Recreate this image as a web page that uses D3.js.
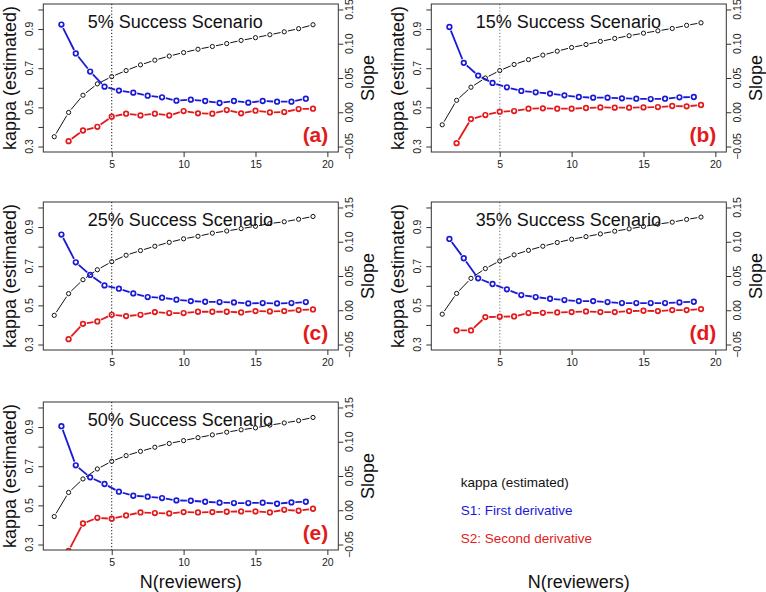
<!DOCTYPE html>
<html>
<head>
<meta charset="utf-8">
<script src="https://cdn.jsdelivr.net/npm/d3@7"></script>
<style>
  body { margin: 0; background: #fff; }
  svg { display: block; font-family: "Liberation Sans", Arial, sans-serif; }
</style>
</head>
<body>
<svg id="chart" width="766" height="592"></svg>
<script>
// x positions: kappa at every N, first derivative between, second derivative from 2
var nKappa = [1, 2, 3, 4, 5, 6, 7, 8, 9, 10, 11, 12, 13, 14, 15, 16, 17, 18, 19];
var nS1 = [1.5, 2.5, 3.5, 4.5, 5.5, 6.5, 7.5, 8.5, 9.5, 10.5, 11.5, 12.5, 13.5, 14.5, 15.5, 16.5, 17.5, 18.5];
var nS2 = [2, 3, 4, 5, 6, 7, 8, 9, 10, 11, 12, 13, 14, 15, 16, 17, 18, 19];

// (a) 5% success
var kappaA = [0.350, 0.474, 0.562, 0.620, 0.657, 0.688, 0.717, 0.741, 0.762, 0.780, 0.797, 0.811, 0.826, 0.842, 0.856, 0.871, 0.886, 0.902, 0.922];
var s1A = [0.128, 0.0858, 0.0594, 0.0374, 0.0316, 0.0286, 0.0242, 0.0218, 0.0169, 0.0184, 0.0164, 0.0135, 0.0164, 0.0140, 0.0164, 0.0154, 0.0154, 0.0198];
var s2A = [-0.0422, -0.0266, -0.0212, -0.0065, -0.0021, -0.0046, -0.0021, -0.0046, 0.0018, -0.0016, -0.0021, 0.0032, -0.0016, 0.0023, -0.0002, 0.0003, 0.0047, 0.0052];

// (b) 15% success
var kappaB = [0.411, 0.536, 0.603, 0.650, 0.688, 0.719, 0.744, 0.767, 0.787, 0.806, 0.821, 0.837, 0.852, 0.866, 0.879, 0.891, 0.903, 0.919, 0.932];
var s1B = [0.1244, 0.0721, 0.0535, 0.0428, 0.0364, 0.0311, 0.0291, 0.0272, 0.0247, 0.0223, 0.0213, 0.0213, 0.0203, 0.0198, 0.0193, 0.0198, 0.0218, 0.0223];
var s2B = [-0.0451, -0.0100, -0.0041, 0.0008, 0.0018, 0.0052, 0.0057, 0.0052, 0.0052, 0.0062, 0.0071, 0.0067, 0.0067, 0.0071, 0.0076, 0.0091, 0.0086, 0.0106];

// (c) 25% success
var kappaC = [0.449, 0.560, 0.631, 0.682, 0.723, 0.756, 0.780, 0.802, 0.822, 0.840, 0.853, 0.869, 0.880, 0.892, 0.904, 0.918, 0.927, 0.940, 0.954];
var s1C = [0.1105, 0.0700, 0.0515, 0.0363, 0.0315, 0.0246, 0.0193, 0.0183, 0.0154, 0.0134, 0.0124, 0.0120, 0.0115, 0.0100, 0.0105, 0.0100, 0.0105, 0.0120];
var s2C = [-0.0422, -0.0198, -0.0163, -0.0066, -0.0085, -0.0066, -0.0027, -0.0041, -0.0041, -0.0022, -0.0022, -0.0022, -0.0032, -0.0012, -0.0017, -0.0012, 0.0002, 0.0012];

// (d) 35% success
var kappaD = [0.455, 0.561, 0.638, 0.688, 0.727, 0.758, 0.781, 0.802, 0.821, 0.838, 0.851, 0.865, 0.879, 0.891, 0.903, 0.915, 0.925, 0.939, 0.951];
var s1D = [0.1041, 0.0759, 0.0466, 0.0383, 0.0305, 0.0222, 0.0193, 0.0168, 0.0149, 0.0134, 0.0134, 0.0120, 0.0105, 0.0105, 0.0105, 0.0105, 0.0115, 0.0124];
var s2D = [-0.0295, -0.0295, -0.0100, -0.0095, -0.0090, -0.0041, -0.0037, -0.0032, -0.0027, -0.0017, -0.0027, -0.0027, -0.0012, -0.0007, -0.0012, 0.0002, 0.0002, 0.0017];

// (e) 50% success
var kappaE = [0.443, 0.566, 0.635, 0.686, 0.725, 0.754, 0.776, 0.797, 0.816, 0.831, 0.846, 0.860, 0.874, 0.886, 0.896, 0.910, 0.921, 0.933, 0.949];
var s1E = [0.1227, 0.0656, 0.0480, 0.0383, 0.0271, 0.0212, 0.0198, 0.0178, 0.0144, 0.0139, 0.0124, 0.0110, 0.0105, 0.0105, 0.0110, 0.0095, 0.0115, 0.0124];
var s2E = [-0.0593, -0.0193, -0.0110, -0.0124, -0.0076, -0.0032, -0.0041, -0.0046, -0.0027, -0.0032, -0.0027, -0.0022, -0.0017, -0.0017, -0.0032, 0.0007, -0.0007, 0.0022];

var scenarios = ['5% Success Scenario', '15% Success Scenario', '25% Success Scenario', '35% Success Scenario', '50% Success Scenario'];
var panelTags = ['(a)', '(b)', '(c)', '(d)', '(e)'];
var kappaTicks = [0.3, 0.4, 0.5, 0.6, 0.7, 0.8, 0.9, 1.0];
var kappaLabels = [0.3, 0.5, 0.7, 0.9];
var slopeTicks = [-0.05, 0.00, 0.05, 0.10, 0.15];
var nTicks = [5, 10, 15, 20];
var legendItems = ['kappa (estimated)', 'S1: First derivative', 'S2: Second derivative'];

var BLUE = '#1a1ad6', RED = '#e31a1c';

var panels = [
  {kappa: kappaA, s1: s1A, s2: s2A, col: 0, row: 0, vline: '#111'},
  {kappa: kappaB, s1: s1B, s2: s2B, col: 1, row: 0, vline: '#999'},
  {kappa: kappaC, s1: s1C, s2: s2C, col: 0, row: 1, vline: '#111'},
  {kappa: kappaD, s1: s1D, s2: s2D, col: 1, row: 1, vline: '#999'},
  {kappa: kappaE, s1: s1E, s2: s2E, col: 0, row: 2, vline: '#111'}
];

var colLeft = [43.3, 431.3];
var rowTop = [4, 202, 402];
var boxW = 295, boxH = 148;

var svg = d3.select('#chart');

// Draw a series like R's type="b": circles with line pieces that stop short of them
function drawB(g, xs, ys, x, y, color, lw, r, sw) {
  var pts = xs.map(function (v, i) { return [x(v), y(ys[i])]; });
  var gap = r + 1.6;
  var segs = d3.pairs(pts).map(function (p) {
    var dx = p[1][0] - p[0][0], dy = p[1][1] - p[0][1];
    var len = Math.sqrt(dx * dx + dy * dy);
    if (len <= 2 * gap) return null;
    var ux = dx / len, uy = dy / len;
    return [p[0][0] + ux * gap, p[0][1] + uy * gap, p[1][0] - ux * gap, p[1][1] - uy * gap];
  }).filter(function (s) { return s; });

  g.append('g').selectAll('line')
    .data(segs).enter()
    .append('line')
    .attr('x1', function (s) { return s[0]; })
    .attr('y1', function (s) { return s[1]; })
    .attr('x2', function (s) { return s[2]; })
    .attr('y2', function (s) { return s[3]; })
    .attr('stroke', color)
    .attr('stroke-width', lw);

  g.append('g').selectAll('circle')
    .data(pts).enter()
    .append('circle')
    .attr('cx', function (p) { return p[0]; })
    .attr('cy', function (p) { return p[1]; })
    .attr('r', r)
    .attr('fill', 'none')
    .attr('stroke', color)
    .attr('stroke-width', sw);
}

panels.forEach(function (p, i) {
  var L = colLeft[p.col], T = rowTop[p.row];
  var R = L + boxW, B = T + boxH;

  var x = d3.scaleLinear().domain([0.24, 20.76]).range([L, R]);
  var yK = d3.scaleLinear().domain([0.272, 1.028]).range([B, T]);
  var yS = d3.scaleLinear().domain([-0.058, 0.158]).range([B, T]);

  var g = svg.append('g');

  // clip for the plot region
  svg.append('clipPath').attr('id', 'clip' + i)
    .append('rect').attr('x', L).attr('y', T).attr('width', boxW).attr('height', boxH);

  // axes
  var xAxis = d3.axisBottom(x).tickValues(nTicks).tickSize(5).tickPadding(4).tickFormat(d3.format('d'));
  var gx = g.append('g').attr('transform', 'translate(0,' + B + ')').call(xAxis);
  gx.select('.domain').remove();
  gx.selectAll('line').attr('stroke', '#333');
  gx.selectAll('text').attr('font-size', '10.5px').attr('fill', '#222')
    .attr('font-family', '"Liberation Sans", Arial, sans-serif');

  var gyL = g.append('g').attr('transform', 'translate(' + L + ',0)')
    .call(d3.axisLeft(yK).tickValues(kappaTicks).tickSize(5).tickFormat(''));
  gyL.select('.domain').remove();
  gyL.selectAll('line').attr('stroke', '#333');
  g.append('g').selectAll('text')
    .data(kappaLabels).enter()
    .append('text')
    .attr('transform', function (d) { return 'translate(' + (L - 10.3) + ',' + yK(d) + ') rotate(-90)'; })
    .attr('text-anchor', 'middle')
    .attr('font-size', '10.5px')
    .attr('fill', '#222')
    .text(function (d) { return d3.format('.1f')(d); });

  var gyR = g.append('g').attr('transform', 'translate(' + R + ',0)')
    .call(d3.axisRight(yS).tickValues(slopeTicks).tickSize(5).tickFormat(''));
  gyR.select('.domain').remove();
  gyR.selectAll('line').attr('stroke', '#333');
  g.append('g').selectAll('text')
    .data(slopeTicks).enter()
    .append('text')
    .attr('transform', function (d) { return 'translate(' + (R + 14.3) + ',' + yS(d) + ') rotate(-90)'; })
    .attr('text-anchor', 'middle')
    .attr('font-size', '10.5px')
    .attr('fill', '#222')
    .text(function (d) { return d3.format('.2f')(d); });

  // axis titles
  g.append('text')
    .attr('transform', 'translate(' + (L - 27.5) + ',' + (T + boxH / 2) + ') rotate(-90)')
    .attr('text-anchor', 'middle')
    .attr('font-size', '18px')
    .attr('fill', '#111')
    .text('kappa (estimated)');
  g.append('text')
    .attr('transform', 'translate(' + (R + 36) + ',' + (T + boxH / 2) + ') rotate(-90)')
    .attr('text-anchor', 'middle')
    .attr('font-size', '18px')
    .attr('fill', '#111')
    .text('Slope');

  // dotted line at N = 5
  g.append('line')
    .attr('x1', x(5)).attr('x2', x(5))
    .attr('y1', T).attr('y2', B)
    .attr('stroke', p.vline)
    .attr('stroke-width', p.vline === '#111' ? 1 : 1.4)
    .attr('stroke-dasharray', '1.2,2');

  // series
  var plot = g.append('g').attr('clip-path', 'url(#clip' + i + ')');
  drawB(plot, nKappa, p.kappa, x, yK, '#111', 1, 2.1, 1);
  drawB(plot, nS1, p.s1, x, yS, BLUE, 1.8, 2.3, 1.7);
  drawB(plot, nS2, p.s2, x, yS, RED, 1.8, 2.3, 1.7);

  // title and panel tag
  g.append('text')
    .attr('x', L + 44.5)
    .attr('y', T + 23.5)
    .attr('font-size', '18px')
    .attr('fill', '#111')
    .text(scenarios[i]);
  g.append('text')
    .attr('x', R - 10)
    .attr('y', T + 137.5)
    .attr('text-anchor', 'end')
    .attr('font-size', '21px')
    .attr('font-weight', 'bold')
    .attr('fill', RED)
    .text(panelTags[i]);

  // box
  g.append('rect')
    .attr('x', L).attr('y', T).attr('width', boxW).attr('height', boxH)
    .attr('fill', 'none')
    .attr('stroke', '#333')
    .attr('stroke-width', 1);
});

// x axis titles under each column
[0, 1].forEach(function (c) {
  svg.append('text')
    .attr('x', colLeft[c] + boxW / 2)
    .attr('y', 588)
    .attr('text-anchor', 'middle')
    .attr('font-size', '18px')
    .attr('fill', '#111')
    .text('N(reviewers)');
});

// legend as coloured text
svg.append('g').selectAll('text')
  .data(legendItems).enter()
  .append('text')
  .attr('x', 460.7)
  .attr('y', function (d, i) { return 487 + i * 28; })
  .attr('font-size', '13.5px')
  .attr('fill', function (d, i) { return ['#111', BLUE, RED][i]; })
  .text(function (d) { return d; });
</script>
</body>
</html>
